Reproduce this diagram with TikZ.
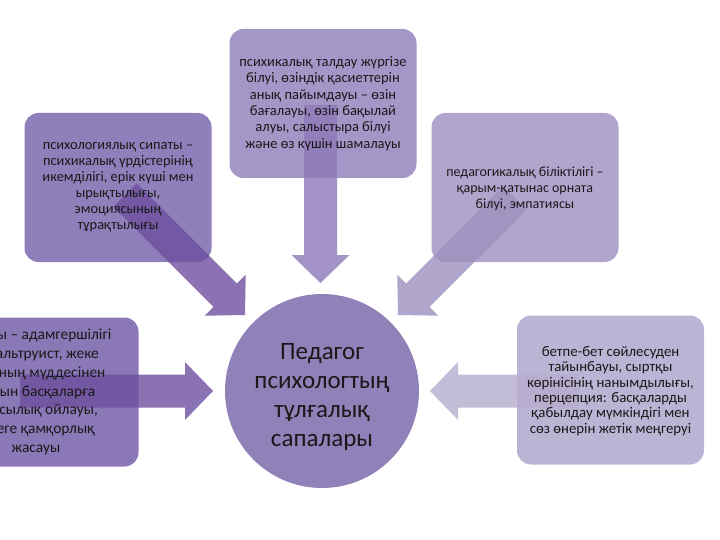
\documentclass[tikz,border=0pt]{standalone}
\usepackage{fontspec}
\setmainfont{Carlito}
\usepackage{xcolor}
\usepackage{tikz}
\usetikzlibrary{calc}
\definecolor{cardTL}{HTML}{8F7FBA}
\definecolor{cardTC}{HTML}{A596C8}
\definecolor{cardTR}{HTML}{B1A5CD}
\definecolor{cardL}{HTML}{8B78B6}
\definecolor{cardR}{HTML}{BCB4D5}
\definecolor{hubfill}{HTML}{9181B9}
\definecolor{arrTL}{HTML}{6E4F9F}
\definecolor{arrTC}{HTML}{8C78B8}
\definecolor{arrTR}{HTML}{9C90BF}
\definecolor{arrL}{HTML}{6E4F9F}
\definecolor{arrR}{HTML}{B5ACCE}

\tikzset{
  card/.style={rectangle, rounded corners=14pt, minimum width=187pt, minimum height=149pt, inner sep=0pt},
  cardtext/.style={align=center, inner sep=0pt, text=black!90},
  hub/.style={circle, fill=hubfill, minimum size=194pt, inner sep=0pt},
}

% block arrow: start, tip, colour
\newcommand{\fatarrow}[3]{%
  \coordinate (h) at ($(#2)!28pt!(#1)$);
  \fill[#3, opacity=0.8]
    ($(#1)!16.5pt!90:(#2)$) -- ($(h)!16.5pt!90:(#2)$) -- ($(h)!29pt!90:(#2)$) -- (#2)
    -- ($(h)!29pt!-90:(#2)$) -- ($(h)!16.5pt!-90:(#2)$) -- ($(#1)!16.5pt!-90:(#2)$) -- cycle;
}

\begin{document}
\begin{tikzpicture}[x=1pt, y=-1pt, font=\fontsize{14.5}{16.4}\selectfont]
\useasboundingbox (0,0) rectangle (720,540);
\clip (0,0) rectangle (720,540);

\foreach \n/\x/\y/\c in {tl/118/187.5/cardTL, tc/323/103.5/cardTC, tr/525/187.5/cardTR, lf/45/392/cardL, rt/610.5/390/cardR} {
  \node[card, fill=\c] (\n) at (\x,\y) {};
}
\node[hub] (hub) at (322,391) {};

% arrows into the hub
\coordinate (tl-s) at (125,195);   \coordinate (tl-t) at (245,315);
\coordinate (tc-s) at (320.5,105); \coordinate (tc-t) at (320.5,283);
\coordinate (tr-s) at (515,198);   \coordinate (tr-t) at (398,315);
\coordinate (lf-s) at (20,391);    \coordinate (lf-t) at (213,391);
\coordinate (rt-s) at (578,391);   \coordinate (rt-t) at (430,391);
\fatarrow{tl-s}{tl-t}{arrTL}
\fatarrow{tc-s}{tc-t}{arrTC}
\fatarrow{tr-s}{tr-t}{arrTR}
\fatarrow{lf-s}{lf-t}{arrL}
\fatarrow{rt-s}{rt-t}{arrR}

\node[cardtext, font=\fontsize{25}{29}\selectfont] (hub-txt) at ($(hub)+(0,6)$) {Педагог\\психологтың\\тұлғалық\\сапалары};
\node[cardtext, font=\fontsize{14.4}{16}\selectfont] (tl-txt) at (tl) {психологиялық сипаты –\\психикалық үрдістерінің\\икемділігі, ерік күші мен\\ырықтылығы,\\эмоциясының\\тұрақтылығы};
\node[cardtext] (tc-txt) at (tc) {психикалық талдау жүргізе\\білуі, өзіндік қасиеттерін\\анық пайымдауы – өзін\\бағалауы, өзін бақылай\\алуы, салыстыра білуі\\және өз күшін шамалауы};
\node[cardtext, font=\fontsize{14}{16}\selectfont] (tr-txt) at ($(tr)+(0,1)$) {педагогикалық біліктілігі –\\қарым-қатынас орната\\білуі, эмпатиясы};
\node[cardtext, font=\fontsize{15.4}{18.7}\selectfont] (lf-txt) at ($(lf)+(-9,0)$) {сипаты – адамгершілігі\\әрі альтруист,  жеке\\басының мүддесінен\\бұрын басқаларға\\жақсылық ойлауы,\\өзгеге қамқорлық\\жасауы};
\node[cardtext, font=\fontsize{14.8}{15.3}\selectfont] (rt-txt) at ($(rt)+(0,1)$) {бетпе-бет сөйлесуден\\тайынбауы, сыртқы\\көрінісінің нанымдылығы,\\перцепция: басқаларды\\қабылдау мүмкіндігі мен\\сөз өнерін жетік меңгеруі};
\end{tikzpicture}
\end{document}
